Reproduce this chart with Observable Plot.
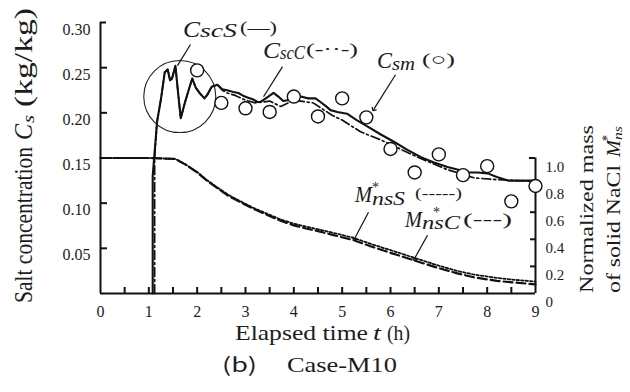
<!DOCTYPE html>
<html><head><meta charset="utf-8">
<script src="https://cdn.jsdelivr.net/npm/d3@7"></script>
<script src="https://cdn.jsdelivr.net/npm/@observablehq/plot@0.6"></script>
<style>body{margin:0;background:#fff} svg{display:block}</style>
</head><body><div id="chart"></div>
<script>
// ---- data ----
// Calculated salt concentration, simulation S (solid line)
const timeScS = [1.08,1.08,1.17,1.25,1.33,1.39,1.44,1.48,1.55,1.60,1.66,1.75,1.84,1.90,1.97,2.05,2.15,2.21,2.30,2.42,2.52,2.62,2.75,2.85,2.95,3.04,3.15,3.25,3.31,3.42,3.50,3.58,3.68,3.78,3.87,3.95,4.05,4.14,4.30,4.45,4.55,4.65,4.76,4.90,5.10,5.30,5.52,5.80,6.07,6.35,6.63,6.90,7.18,7.40,7.60,7.80,8.01,8.20,8.43,8.70,9.00];
const CscS    = [0.000,0.130,0.190,0.215,0.245,0.248,0.236,0.238,0.252,0.225,0.194,0.212,0.228,0.238,0.228,0.222,0.216,0.220,0.229,0.231,0.226,0.225,0.223,0.222,0.219,0.217,0.215,0.212,0.212,0.216,0.219,0.222,0.218,0.213,0.214,0.218,0.219,0.218,0.216,0.216,0.212,0.208,0.203,0.201,0.199,0.192,0.185,0.176,0.168,0.159,0.151,0.145,0.140,0.137,0.134,0.134,0.133,0.129,0.125,0.125,0.125];
// Calculated salt concentration, simulation C (dash-dot line)
const timeScC = [1.12,1.12,1.17,1.25,1.33,1.39,1.44,1.48,1.55,1.60,1.66,1.75,1.84,1.90,1.97,2.05,2.15,2.21,2.30,2.42,2.52,2.62,2.80,3.00,3.20,3.50,3.73,4.00,4.40,4.80,5.00,5.38,5.80,6.20,6.60,7.18,7.73,8.20,8.60,9.00];
const CscC    = [0.000,0.150,0.190,0.215,0.245,0.248,0.236,0.238,0.252,0.225,0.194,0.212,0.228,0.238,0.228,0.222,0.216,0.220,0.229,0.231,0.225,0.222,0.219,0.214,0.211,0.213,0.207,0.214,0.211,0.197,0.192,0.179,0.170,0.160,0.150,0.137,0.128,0.126,0.125,0.124];
// Measured salt concentration (circles)
const timeCsm = [2.0,2.5,3.0,3.5,4.0,4.5,5.0,5.5,6.0,6.5,7.0,7.5,8.0,8.5,9.0];
const Csm     = [0.247,0.211,0.205,0.201,0.218,0.196,0.216,0.195,0.160,0.134,0.154,0.131,0.141,0.102,0.119];
// Normalized mass of solid NaCl (right axis)
const timeM = [0,1.0,1.55,1.75,2.0,2.2,2.41,2.65,2.9,3.15,3.45,3.7,4.0,4.25,4.5,4.8,5.24,5.6,6.0,6.48,7.0,7.4,7.72,8.2,8.6,9.0];
const MnsC  = [1.0,1.0,0.993,0.953,0.893,0.833,0.78,0.72,0.673,0.627,0.58,0.54,0.503,0.48,0.46,0.433,0.393,0.347,0.30,0.245,0.187,0.147,0.12,0.093,0.08,0.067];
const MnsS  = [1.0,1.0,0.993,0.955,0.897,0.838,0.785,0.727,0.68,0.634,0.588,0.55,0.515,0.494,0.474,0.449,0.41,0.365,0.32,0.265,0.205,0.165,0.14,0.115,0.10,0.088];
// Axes
const xTickLabels = [0,1,2,3,4,5,6,7,8,9];
const xTicks = [0.5,1,1.5,2,2.5,3,3.5,4,4.5,5,5.5,6,6.5,7,7.5,8,8.5];
const yTicks = [0.05,0.10,0.15,0.20,0.25,0.30];
const rightTicks = [0,0.2,0.4,0.6,0.8,1.0];
const M_FULL = 0.15; // right axis 1.0 aligns with 0.15 kg/kg on the left axis
// Peak-region highlight circle
const highlight = [{t:1.64, c:0.218}];

// ---- tables ----
const zip = (a,b,k) => a.map((v,i)=>({t:v, [k]:b[i]}));
const rowsS = zip(timeScS, CscS, "c");
const rowsC = zip(timeScC, CscC, "c");
const rowsSm = zip(timeCsm, Csm, "c");
const rowsMC = zip(timeM, MnsC, "m");
const rowsMS = zip(timeM, MnsS, "m");

const serif = 'Liberation Serif, Times New Roman, serif';
const ink = "#111", txt = "#1c1c1c";
const W = 630, H = 392, mL = 100, mR = 95, mT = 22, mB = 99;
const pxX = 9/(W-mL-mR), pxY = 0.3/(H-mT-mB);

// leader lines (data coordinates)
const leaders = [
  {t1:1.862,c1:0.2756,t2:1.593,c2:0.2522},
  {t1:3.766,c1:0.2511,t2:3.373,c2:0.2178}
];
const arrows = [
  {t1:6.104,c1:0.2422,t2:5.650,c2:0.2035},
  {t1:5.545,c1:0.0900,t2:5.250,c2:0.0600},
  {t1:6.766,c1:0.0644,t2:6.490,c2:0.0380}
];

const plot = Plot.plot({
  width: W, height: H,
  marginLeft: mL, marginRight: mR, marginTop: mT, marginBottom: mB,
  x: {domain:[0,9], axis:null},
  y: {domain:[0,0.3], axis:null},
  style: {background:"#fff", overflow:"visible"},
  marks: [
    // axes
    Plot.ruleX([0], {y1:0, y2:0.30, stroke:ink, strokeWidth:2}),
    Plot.ruleY([0], {x1:0, x2:9, stroke:ink, strokeWidth:2}),
    Plot.ruleX([9], {y1:0, y2:M_FULL, stroke:ink, strokeWidth:2}),
    Plot.ruleY([0.30], {x1:0, x2:6*pxX, stroke:ink, strokeWidth:2}),
    Plot.ruleY([M_FULL], {x1:9-6*pxX, x2:9, stroke:ink, strokeWidth:2}),
    Plot.ruleY(yTicks.filter(d=>d<0.3), {y:d=>d, x1:0, x2:7*pxX, stroke:ink, strokeWidth:2}),
    Plot.ruleX(xTicks, {x:d=>d, y1:0, y2:6*pxY, stroke:ink, strokeWidth:2}),
    Plot.ruleY(rightTicks.filter(d=>d>0&&d<1), {y:d=>d*M_FULL, x1:9-5*pxX, x2:9, stroke:ink, strokeWidth:2}),
    // tick labels
    Plot.text(yTicks, {ariaLabel:"ytick", x:0, y:d=>d, text:d=>d.toFixed(2), textAnchor:"end", dx:-10, dy:7, fontSize:16, fontFamily:serif, fill:txt}),
    Plot.text(xTickLabels, {x:d=>d, y:0, text:d=>String(d), dy:18, fontSize:16, fontFamily:serif, fill:txt}),
    Plot.text(rightTicks, {ariaLabel:"rtick", x:9, y:d=>d*M_FULL, text:d=>d===0?"0":d.toFixed(1), textAnchor:"start", dx:10, dy:9, fontSize:15, fontFamily:serif, fill:txt}),
    // curves
    Plot.line(rowsMC, {x:"t", y:d=>d.m*M_FULL, stroke:ink, strokeWidth:2.2, strokeDasharray:"9,4"}),
    Plot.line(rowsMS, {x:"t", y:d=>d.m*M_FULL, stroke:ink, strokeWidth:1.8, strokeDasharray:"2.5,2"}),
    Plot.line(rowsC, {x:"t", y:"c", stroke:ink, strokeWidth:1.7, strokeDasharray:"9,3,2,3"}),
    Plot.line(rowsS, {x:"t", y:"c", stroke:ink, strokeWidth:2.1}),
    Plot.dot(highlight, {x:"t", y:"c", r:36, stroke:"#222", strokeWidth:1.1, fill:"none"}),
    Plot.dot(rowsSm, {x:"t", y:"c", r:6.5, stroke:ink, strokeWidth:1.4, fill:"#fff"}),
    // leaders
    Plot.link(leaders, {x1:"t1", y1:"c1", x2:"t2", y2:"c2", stroke:ink, strokeWidth:1.2}),
    Plot.link(arrows, {x1:"t1", y1:"c1", x2:"t2", y2:"c2", stroke:ink, strokeWidth:1.2, markerEnd:"arrow"})
  ]
});
document.getElementById("chart").append(plot);

const svg = d3.select(plot);
svg.selectAll('g[aria-label="ytick"] text').attr("textLength",35).attr("lengthAdjust","spacingAndGlyphs");
svg.selectAll('g[aria-label="rtick"] text').filter(function(){return this.textContent!=="0";}).attr("textLength",22).attr("lengthAdjust","spacingAndGlyphs");

const sx = plot.scale("x"), sy = plot.scale("y");
// one <text> per label; each part is a tspan placed at its own offset
function rich(ax, ay, parts, rotate) {
  const g = svg.append("g").attr("text-anchor","start")
    .attr("transform", `translate(${ax},${ay})` + (rotate ? ` rotate(${rotate})` : ""));
  const t = g.append("text").attr("text-anchor","start").attr("font-family", serif).attr("fill",txt);
  for (const p of parts) {
    const s = t.append("tspan").attr("x", p.dx||0).attr("y", p.dy||0)
      .attr("font-size", p.size).attr("font-style", p.it ? "italic" : "normal").text(p.text);
    if (p.sans) s.attr("font-family", '"Noto Sans CJK SC","Noto Sans",sans-serif');
    if (p.len) s.attr("textLength", p.len).attr("lengthAdjust", "spacingAndGlyphs");
  }
}
// curve labels (anchored in data coordinates)
rich(sx.apply(1.717), sy.apply(0.2834), [
  {text:"C", it:1, size:24, len:17},
  {text:"scS", it:1, size:19, len:37, dx:17, dy:0},
  {text:"(—)", size:16, len:37, dx:57, dy:-4}]);
rich(sx.apply(3.372), sy.apply(0.2601), [
  {text:"C", it:1, size:24, len:17},
  {text:"scC", it:1, size:18, len:25, dx:17, dy:1},
  {text:"(-··-)", size:16, len:52, dx:43, dy:-3}]);
rich(sx.apply(5.731), sy.apply(0.2491), [
  {text:"C", it:1, size:24, len:15},
  {text:"sm", it:1, size:18, len:23, dx:15, dy:2},
  {text:"(○)", size:17, len:33, dx:45, dy:-3}]);
rich(sx.apply(5.276), sy.apply(0.1007), [
  {text:"M", it:1, size:23, len:17},
  {text:"*", size:15, len:7, dx:17, dy:-10},
  {text:"nsS", it:1, size:18, len:33, dx:17, dy:3},
  {text:"(-----)", size:15, len:47, dx:60, dy:-4}]);
rich(sx.apply(6.31), sy.apply(0.073), [
  {text:"M", it:1, size:23, len:17},
  {text:"*", size:15, len:7, dx:28, dy:-10},
  {text:"nsC", it:1, size:18, len:38, dx:17, dy:2},
  {text:"(---)", size:16, len:49, dx:58, dy:-2}]);
// axis titles
rich(32, 303, [
  {text:"Salt concentration", size:25, len:156},
  {text:"C", it:1, size:25, len:16, dx:163},
  {text:"s", it:1, size:16, len:8, dx:180, dy:2},
  {text:"(kg/kg)", size:25, len:99, dx:196}], -90);
rich(593, 293, [{text:"Normalized mass", size:19, len:168}], -90);
rich(620, 293, [
  {text:"of solid NaCl", size:19, len:128},
  {text:"M", it:1, size:19, len:17, dx:136},
  {text:"*", size:14, len:6, dx:152, dy:-8},
  {text:"ns", it:1, size:13, len:14, dx:153, dy:2}], -90);
rich(235, 340, [
  {text:"Elapsed time", size:21, len:133},
  {text:"t", it:1, size:21, len:8, dx:138},
  {text:"(h)", size:21, len:23, dx:152}]);
rich(222, 372, [
  {text:"(b)", sans:1, size:20, len:35},
  {text:"Case-M10", size:22, len:110, dx:65}]);
</script></body></html>
